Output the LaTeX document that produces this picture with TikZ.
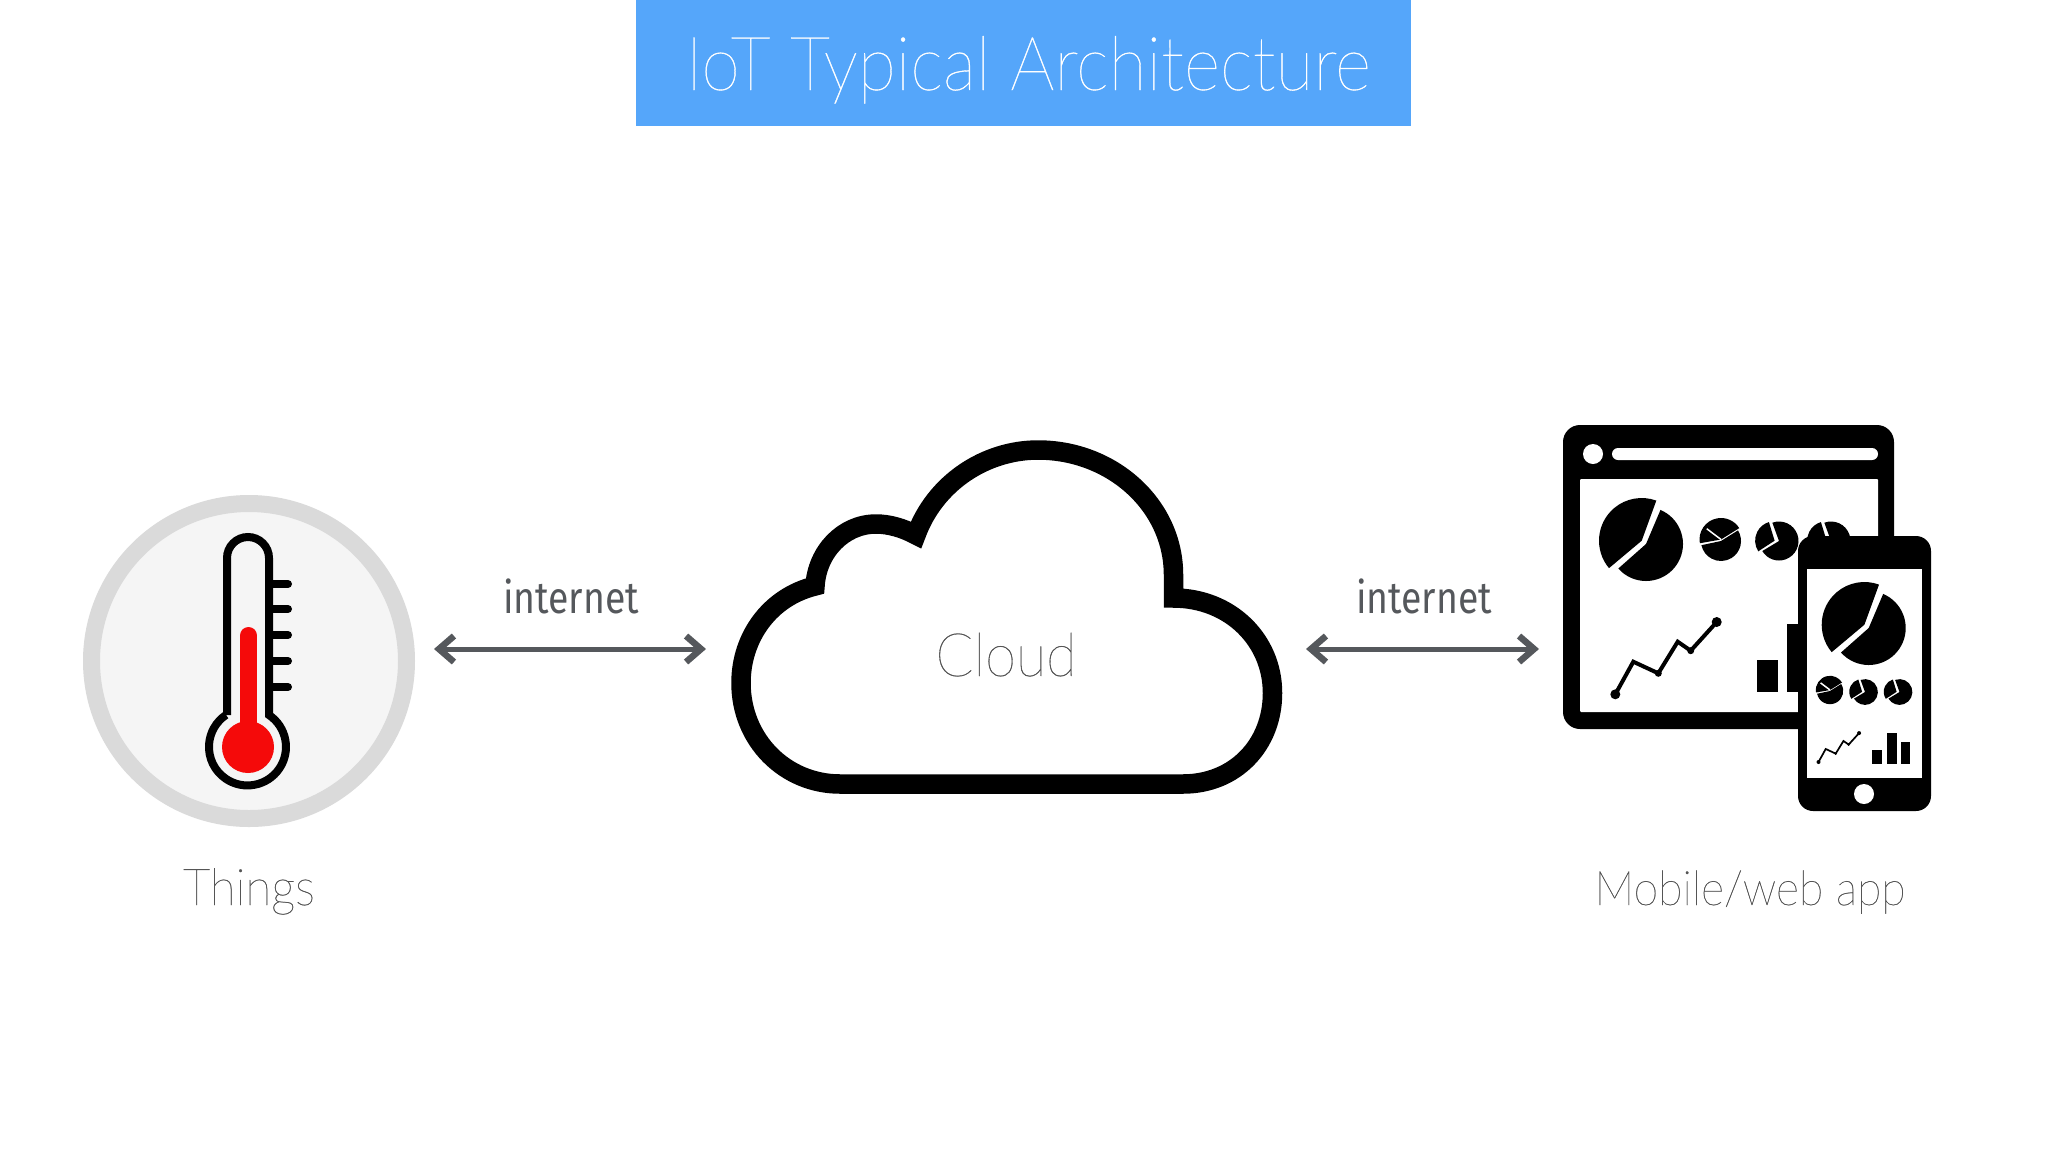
\documentclass[tikz,border=0pt]{standalone}
\usepackage{fontspec}
\usetikzlibrary{arrows.meta}
\setmainfont{Lato}
\newfontfamily\thinfont[FakeStretch=0.93,FakeBold=0.5]{Lato Thin}
\newfontfamily\linkfont[FakeStretch=0.84]{Fira Sans}
\definecolor{titleblue}{HTML}{55A6FA}
\definecolor{linkgrey}{HTML}{55585C}
\definecolor{labelgrey}{HTML}{555555}
\definecolor{ringgrey}{HTML}{DADADA}
\definecolor{discgrey}{HTML}{F5F5F5}
\definecolor{thermred}{HTML}{F50A0A}
\newcommand{\pieslice}[4]{\fill (#1) -- ++(#3:#2) arc[start angle=#3,end angle=#4,radius=#2] -- cycle;}
\tikzset{
  label/.style={text=labelgrey,font=\thinfont\fontsize{51}{51}\selectfont,anchor=base},
  netlabel/.style={text=linkgrey,font=\linkfont\fontsize{44.5}{44.5}\selectfont,anchor=base},
  link/.style={draw=linkgrey,line width=5pt,{Straight Barb[length=15pt,width=26pt,line width=6.5pt]}-{Straight Barb[length=15pt,width=26pt,line width=6.5pt]}},
  bigpie/.pic={
    \pieslice{0,0}{37}{-67}{138.5}
    \pieslice{-4.3,-3.3}{42.7}{140}{290}
  },
  splitpie/.pic={
    \pieslice{0,0}{20}{-32}{168}
    \pieslice{0,-1.5}{21.5}{170}{328}
    \draw[white,line width=1.5pt] (0,-1.5) -- (-14.3,-12.3);
  },
  cutpie/.pic={
    \pieslice{0,0}{19.5}{-110}{149}
    \pieslice{-4.4,-0.3}{19.5}{147}{253}
  },
  trend/.pic={
    \draw (0,0) -- (18,-32.6) -- (43,-21) -- (62.4,-52.6) -- (75.4,-43.6) -- (101.4,-72.3);
    \fill (0,0) circle[radius=5] (43,-21) circle[radius=3.5] (75.4,-43.6) circle[radius=3.5] (101.4,-72.3) circle[radius=5];
  }
}
\begin{document}
\begin{tikzpicture}[x=1pt,y=-1pt]
\useasboundingbox (0,0) rectangle (2048,1152);
\fill[white] (0,0) rectangle (2048,1152);

\fill[titleblue] (636,0) rectangle (1411,126);
\node[anchor=base,text=white,font=\thinfont\fontsize{75}{75}\selectfont] (title) at (1028,90) {IoT Typical Architecture};

\node[circle,draw=ringgrey,fill=discgrey,line width=17pt,minimum size=315pt,inner sep=0pt] (thingsdisc) at (249,661) {};
\draw[line width=8pt] (227,715) -- (227,558) arc[start angle=180,end angle=360,radius=21] -- (269,715) arc[start angle=-56,end angle=236,radius=38.5];
\foreach \y in {584,609,635,661,687}
  \draw[line width=8pt,line cap=round] (272,\y) -- (288,\y);
\draw[thermred,line width=17pt,line cap=round] (248.5,635.5) -- (248.5,740);
\fill[thermred] (248,747) circle[radius=26];
\node[label] (things) at (249,905) {Things};

\draw[fill=white,line width=19.5pt,miter limit=4] (840,784) -- (1183,784)
  .. controls (1235,784) and (1272.5,745) .. (1272.5,693)
  .. controls (1272.5,640) and (1230,598) .. (1173.5,598)
  -- (1173.5,575) .. controls (1173.5,505) and (1112,450) .. (1038,450)
  .. controls (985,450) and (935,483) .. (916,535)
  .. controls (903,528) and (889,524) .. (876,524)
  .. controls (843,524) and (817,552) .. (815,586)
  .. controls (770,597) and (741,637) .. (741,683)
  .. controls (741,740) and (785,784) .. (840,784) -- cycle;
\node[label,font=\thinfont\fontsize{60}{60}\selectfont] (cloud) at (1006,676) {Cloud};

\coordinate (thingsend) at (434,649);
\coordinate (cloudleft) at (706,649);
\coordinate (cloudright) at (1306,649);
\coordinate (append) at (1539,649);
\draw[link] (thingsend) -- (cloudleft);
\draw[link] (cloudright) -- (append);
\node[netlabel] (netleft) at (571,613) {internet};
\node[netlabel] (netright) at (1424,613) {internet};

\fill[rounded corners=17pt] (1563,425) rectangle (1894,729);
\fill[white,rounded corners=1pt] (1580,479) rectangle (1878,712);
\fill[white] (1593,454) circle[radius=10];
\fill[white,rounded corners=6pt] (1612,448) rectangle (1878,460);
\pic at (1646,544) {bigpie};
\pic at (1721,541) {splitpie};
\pic at (1779,541) {cutpie};
\pic at (1831,541) {cutpie};
\pic[line width=4pt] at (1615.3,694.3) {trend};
\fill (1756.7,660) rectangle (1778.3,691.7);
\fill (1787.3,624) rectangle (1810,691.7);

\fill[rounded corners=15pt] (1798,536) rectangle (1931,811);
\fill[white] (1807,569) rectangle (1922,778);
\fill[white] (1864,794) circle[radius=10];
\pic at (1868.7,628) {bigpie};
\pic[scale=.66] at (1830,691) {splitpie};
\pic[scale=.66] at (1865,692) {cutpie};
\pic[scale=.66] at (1899.5,692) {cutpie};
\pic[scale=.4,line width=1.7pt] at (1818.5,762) {trend};
\fill (1872.3,750) rectangle (1882.3,764.3);
\fill (1886.7,733.3) rectangle (1896.7,764.3);
\fill (1900.7,742.3) rectangle (1910.3,764.3);
\node[label,font=\thinfont\fontsize{48}{48}\selectfont] (app) at (1750,905) {Mobile/web app};
\end{tikzpicture}
\end{document}
